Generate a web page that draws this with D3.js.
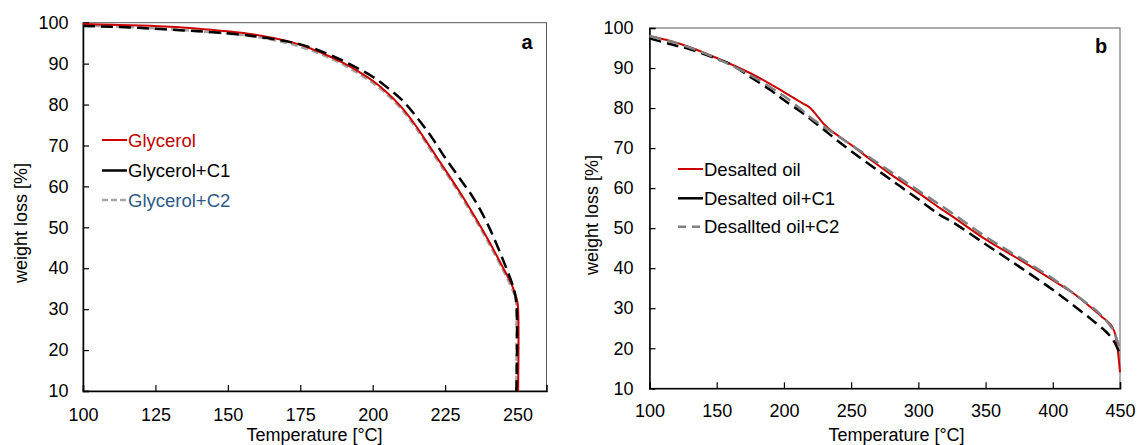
<!DOCTYPE html>
<html><head><meta charset="utf-8">
<script src="https://cdn.jsdelivr.net/npm/d3@7"></script>
<style>
body{margin:0;background:#fff;}
text{font-family:"Liberation Sans",Arial,sans-serif;fill:#000;}
</style></head><body>
<svg id="c" width="1137" height="445"></svg>
<script>
// ---------- data ----------
const yTicks = [10,20,30,40,50,60,70,80,90,100];
const xTicksA = [100,125,150,175,200,225,250];
const xTicksB = [100,150,200,250,300,350,400,450];

const glycerolT = [100,110,120,130,140,150,160,170,175,180,185,190,195,200,205,210,215,220,225,230,235,240,245,248,249.8,250.2,250.2];
const glycerolW = [99.7,99.5,99.3,99.0,98.5,97.9,97.0,95.6,94.6,93.3,91.8,90.1,88.1,85.8,82.9,79.3,74.7,69.4,64.1,58.7,52.9,46.8,40.1,36.0,32.3,30,10];

const glyC1T = [100,110,120,130,140,150,160,170,175,180,185,190,195,200,205,210,215,220,225,230,235,240,245,248.6,249.6,249.6];
const glyC1W = [99.2,99.0,98.7,98.3,97.9,97.4,96.6,95.5,94.7,93.6,92.2,90.6,88.8,86.8,84.2,81.2,77.1,72.4,67.0,62.0,56.9,50.3,42.0,35.2,31.5,10];

const glyC2T = [100,110,120,130,140,150,160,170,175,180,185,190,195,200,205,210,215,220,225,230,235,240,245,248,249.5,249.6,249.6];
const glyC2W = [99.3,99.1,98.8,98.4,97.9,97.3,96.5,95.1,94.1,92.9,91.4,89.7,87.6,85.3,82.4,78.8,74.2,68.9,63.6,58.2,52.4,46.2,39.5,35.2,32,30,10];

const oilT = [100,115,130,150,175,190,200,210,215,220,225,230,235,250,265,280,300,316,325,350,375,400,415,428,436,443,446,448,450];
const oilW = [98.0,96.8,95.2,92.5,88.7,86.0,84.0,82.0,81.0,79.9,77.9,75.9,74.4,70.8,67.0,63.3,58.8,55.0,53.0,47.2,42.2,37.0,33.8,30.3,28.0,26.0,24.0,20.5,14.0];

const oilC1T = [100,115,130,150,160,175,190,200,215,230,245,260,280,300,316,325,350,375,400,415,428,440,445,450];
const oilC1W = [97.4,96.0,94.7,92.3,91.0,87.8,84.5,82.0,78.5,74.5,70.5,66.8,62.0,57.2,53.3,51.6,46.0,40.4,34.6,30.8,27.4,24.0,22.0,18.6];

const oilC2T = [100,115,130,150,175,190,200,212,220,230,250,275,300,325,350,375,400,420,435,445,450];
const oilC2W = [98.0,96.7,95.1,92.4,88.2,85.2,83.0,79.9,77.6,75.3,70.8,65.1,59.4,53.8,47.9,42.7,37.4,32.6,28.6,24.5,19.5];

const legendA = ["Glycerol","Glycerol+C1","Glycerol+C2"];
const legendB = ["Desalted oil","Desalted oil+C1","Desallted oil+C2"];

// ---------- drawing ----------
const svg = d3.select("#c");
const zip = (a,b)=>a.map((v,i)=>[v,b[i]]);

function panel(o){
  const x = d3.scaleLinear().domain(o.xDom).range([o.x0,o.x1]);
  const y = d3.scaleLinear().domain([10,100]).range([o.y0,o.y1]);
  const g = svg.append("g");
  g.append("rect").attr("x",o.x0).attr("y",o.y1).attr("width",o.x1-o.x0).attr("height",o.y0-o.y1)
    .attr("fill","none").attr("stroke","#595959").attr("stroke-width",1);
  const ax = g.append("g").attr("transform",`translate(0,${o.y0})`)
    .call(d3.axisBottom(x).tickValues(o.xTicks).tickSize(-6).tickPadding(o.xPad).tickFormat(d3.format("d")));
  const ay = g.append("g").attr("transform",`translate(${o.x0},0)`)
    .call(d3.axisLeft(y).tickValues(yTicks).tickSize(-6).tickPadding(o.yPad).tickFormat(d3.format("d")));
  [ax,ay].forEach(a=>{
    a.select(".domain").attr("stroke","#000").attr("stroke-width",1.5);
    a.selectAll(".tick line").attr("stroke","#000").attr("stroke-width",1.2);
    a.selectAll(".tick text").attr("font-size",18).attr("font-family","Liberation Sans, Arial, sans-serif").attr("fill","#000");
  });
  const line = d3.line().x(d=>x(d[0])).y(d=>y(d[1])).curve(d3.curveCatmullRom.alpha(0.5));
  o.series.forEach(s=>{
    g.append("path").datum(zip(s.t,s.w)).attr("d",line).attr("fill","none")
      .attr("stroke",s.color).attr("stroke-width",s.width).attr("stroke-dasharray",s.dash||null);
  });
  o.legend.forEach((s,i)=>{
    const ly = o.ly[i];
    const ld = (s.ldash !== undefined) ? s.ldash : (s.dash || null);
    g.append("line").attr("x1",o.lx).attr("x2",o.lx+25).attr("y1",ly).attr("y2",ly)
      .attr("stroke",s.color).attr("stroke-width",s.width).attr("stroke-dasharray",ld);
    g.append("text").attr("x",o.lx+26).attr("y",ly).attr("dy","0.36em").attr("font-size",18.5)
      .style("fill",s.textColor).text(s.name);
  });
  g.append("text").attr("x",o.letterX).attr("y",o.letterY).attr("text-anchor","middle")
    .attr("font-size",20).attr("font-weight","bold").text(o.letter);
  g.append("text").attr("x",o.xtX).attr("y",441).attr("text-anchor","middle").attr("font-size",18).text("Temperature [°C]");
  g.append("text").attr("transform",`translate(${o.ytX},${o.ytY}) rotate(-90)`).attr("text-anchor","middle")
    .attr("dy","0.35em").attr("font-size",18).text("weight loss [%]");
}

const red="#CC0000", blk="#000000";
const sA = [
  {t:glyC2T,w:glyC2W,color:"#A6A6A6",width:2.5,dash:"7,4",ldash:"6,3",name:legendA[2],textColor:"#2E5A88"},
  {t:glycerolT,w:glycerolW,color:red,width:2,name:legendA[0],textColor:"#C00000"},
  {t:glyC1T,w:glyC1W,color:blk,width:2.5,dash:"12,6",ldash:null,name:legendA[1],textColor:"#000"}
];
panel({xDom:[100,260],x0:83,x1:546.5,y0:391,y1:22.7,xTicks:xTicksA,xPad:17,yPad:14.5,
  series:sA, legend:[sA[1],sA[2],sA[0]], lx:102, ly:[140,170.5,200],
  letter:"a", letterX:527, letterY:49, xtX:314.5, ytX:21, ytY:223});

const sB = [
  {t:oilT,w:oilW,color:red,width:2,name:legendB[0],textColor:"#000"},
  {t:oilC1T,w:oilC1W,color:blk,width:2.5,dash:"12,6",ldash:null,name:legendB[1],textColor:"#000"},
  {t:oilC2T,w:oilC2W,color:"#808080",width:2.5,dash:"12,6",ldash:"8,6",name:legendB[2],textColor:"#000"}
];
panel({xDom:[100,450],x0:649.5,x1:1120,y0:388.3,y1:28,xTicks:xTicksB,xPad:16,yPad:16,
  series:sB, legend:sB, lx:678, ly:[169,198.3,226.7],
  letter:"b", letterX:1101, letterY:53, xtX:896.5, ytX:591.5, ytY:215});
</script></body></html>
